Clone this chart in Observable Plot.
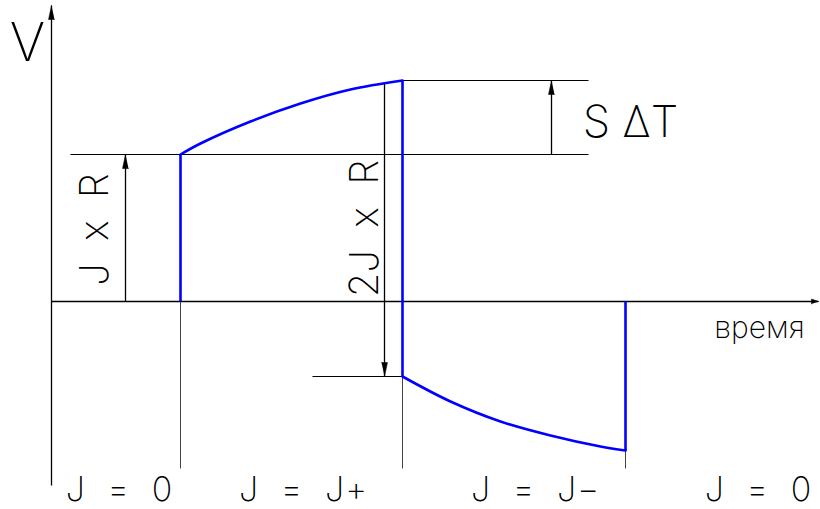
<!DOCTYPE html>
<html><head><meta charset="utf-8">
<script src="https://cdn.jsdelivr.net/npm/d3@7"></script>
<script src="https://cdn.jsdelivr.net/npm/@observablehq/plot@0.6"></script>
<style>body{margin:0;background:#fff}</style>
</head><body><div id="chart"></div>
<script>
// time (t) and voltage (V) key values
const tStart = 1.29, tSwitch = 3.51, tEnd = 5.74;
const vJR = 1.47, vTop = 2.21, vNeg = -0.75, vBottom = -1.49;
// signal curve segments
const upperCurve = [[1.29,1.47],[1.49,1.58],[1.99,1.80],[2.49,1.98],[2.99,2.12],[3.51,2.21]];
const lowerCurve = [[3.51,-0.75],[3.99,-1.00],[4.49,-1.20],[4.99,-1.34],[5.49,-1.45],[5.74,-1.49]];
const verticalJumps = [[tStart,0,vJR],[tSwitch,vTop,vNeg],[tEnd,vBottom,0]];
// dimension lines [x1,y1,x2,y2]
const dimLines = [[0.19,vJR,5.37,vJR],[tSwitch,vTop,5.37,vTop],[2.61,vNeg,tSwitch,vNeg]];
const guideLines = [[tStart,0,tStart,-1.67],[tSwitch,vNeg,tSwitch,-1.67],[tEnd,vBottom,tEnd,-1.67]];
// arrows [x1,y1,x2,y2] (head at x2,y2)
const arrows = [[0.74,0,0.74,vJR],[3.33,2.19,3.33,vNeg],[5.00,vJR,5.00,vTop]];
const axisV = [0,-1.84,0,2.96];
const axisT = [0,0,7.67,0];
// labels
const labels = [
  {t:-0.24,v:2.58,text:"V",size:54,rot:0,ws:0},
  {t:7.08,v:-0.27,text:"время",size:30,rot:0,ws:0},
  {t:0.44,v:0.72,text:"J x R",size:40,rot:-90,ws:11},
  {t:3.14,v:0.73,text:"2J x R",size:40,rot:-90,ws:11},
  {t:5.79,v:1.79,text:"S ΔT",size:44,rot:0,ws:0}
];
const bottomLabels = [[0.68,"J = 0"],[2.52,"J = J+"],[4.84,"J = J−"],[7.07,"J = 0"]];
const bottomV = -1.89;

function head(a, len, hw){
  const [x1,y1,x2,y2]=a; const dx=x2-x1, dy=y2-y1; const L=Math.hypot(dx,dy);
  const ux=dx/L, uy=dy/L, px=-uy, py=ux;
  const bx=x2-ux*len, by=y2-uy*len;
  return [[x2,y2],[bx+px*hw,by+py*hw],[bx-px*hw,by-py*hw]];
}
const allArrows = [...arrows, axisV];
const heads = allArrows.flatMap((a,i)=>head(a,0.14,0.03).map(p=>({x:p[0],y:p[1],g:i})))
  .concat(head(axisT,0.07,0.025).map(p=>({x:p[0],y:p[1],g:99})));
const segs = [
  ...upperCurve.map(p=>({x:p[0],y:p[1],g:"u"})),
  ...lowerCurve.map(p=>({x:p[0],y:p[1],g:"l"}))
];
const font = "Inter, 'DejaVu Sans', sans-serif";
const chart = Plot.plot({
  width:820, height:509,
  marginLeft:51, marginRight:2, marginTop:5, marginBottom:24,
  x:{domain:[0,7.67], axis:null},
  y:{domain:[-1.84,2.96], axis:null},
  style:{background:"#fff", fontFamily:font},
  marks:[
    Plot.link(guideLines,{x1:d=>d[0],y1:d=>d[1],x2:d=>d[2],y2:d=>d[3],stroke:"#444",strokeWidth:1}),
    Plot.link(dimLines,{x1:d=>d[0],y1:d=>d[1],x2:d=>d[2],y2:d=>d[3],stroke:"#000",strokeWidth:1}),
    Plot.link([...allArrows, axisT],{x1:d=>d[0],y1:d=>d[1],x2:d=>d[2],y2:d=>d[3],stroke:"#000",strokeWidth:1.3}),
    Plot.line(heads,{x:"x",y:"y",z:"g",fill:"#000",stroke:"#000",strokeWidth:0.5}),
    Plot.line(segs,{x:"x",y:"y",z:"g",curve:"catmull-rom",stroke:"#0000ff",strokeWidth:2.6}),
    Plot.link(verticalJumps,{x1:d=>d[0],y1:d=>d[1],x2:d=>d[0],y2:d=>d[2],stroke:"#0000ff",strokeWidth:2.6}),
    ...labels.map((l,i)=>Plot.text([l],{x:"t",y:"v",text:"text",fontSize:l.size,rotate:l.rot,fill:"#000",fontWeight:200,fontFamily:font,className:"lab"+i})),
    Plot.text(bottomLabels,{x:d=>d[0],y:()=>bottomV,text:d=>d[1],fontSize:34,fontWeight:200,fill:"#000",fontFamily:font,className:"bl"})
  ]
});
labels.forEach((l,i)=>d3.select(chart).selectAll(".lab"+i+" text").attr("word-spacing",l.ws));
d3.select(chart).selectAll(".bl text").attr("word-spacing",11).attr("letter-spacing",1);
document.getElementById("chart").append(chart);
</script></body></html>
